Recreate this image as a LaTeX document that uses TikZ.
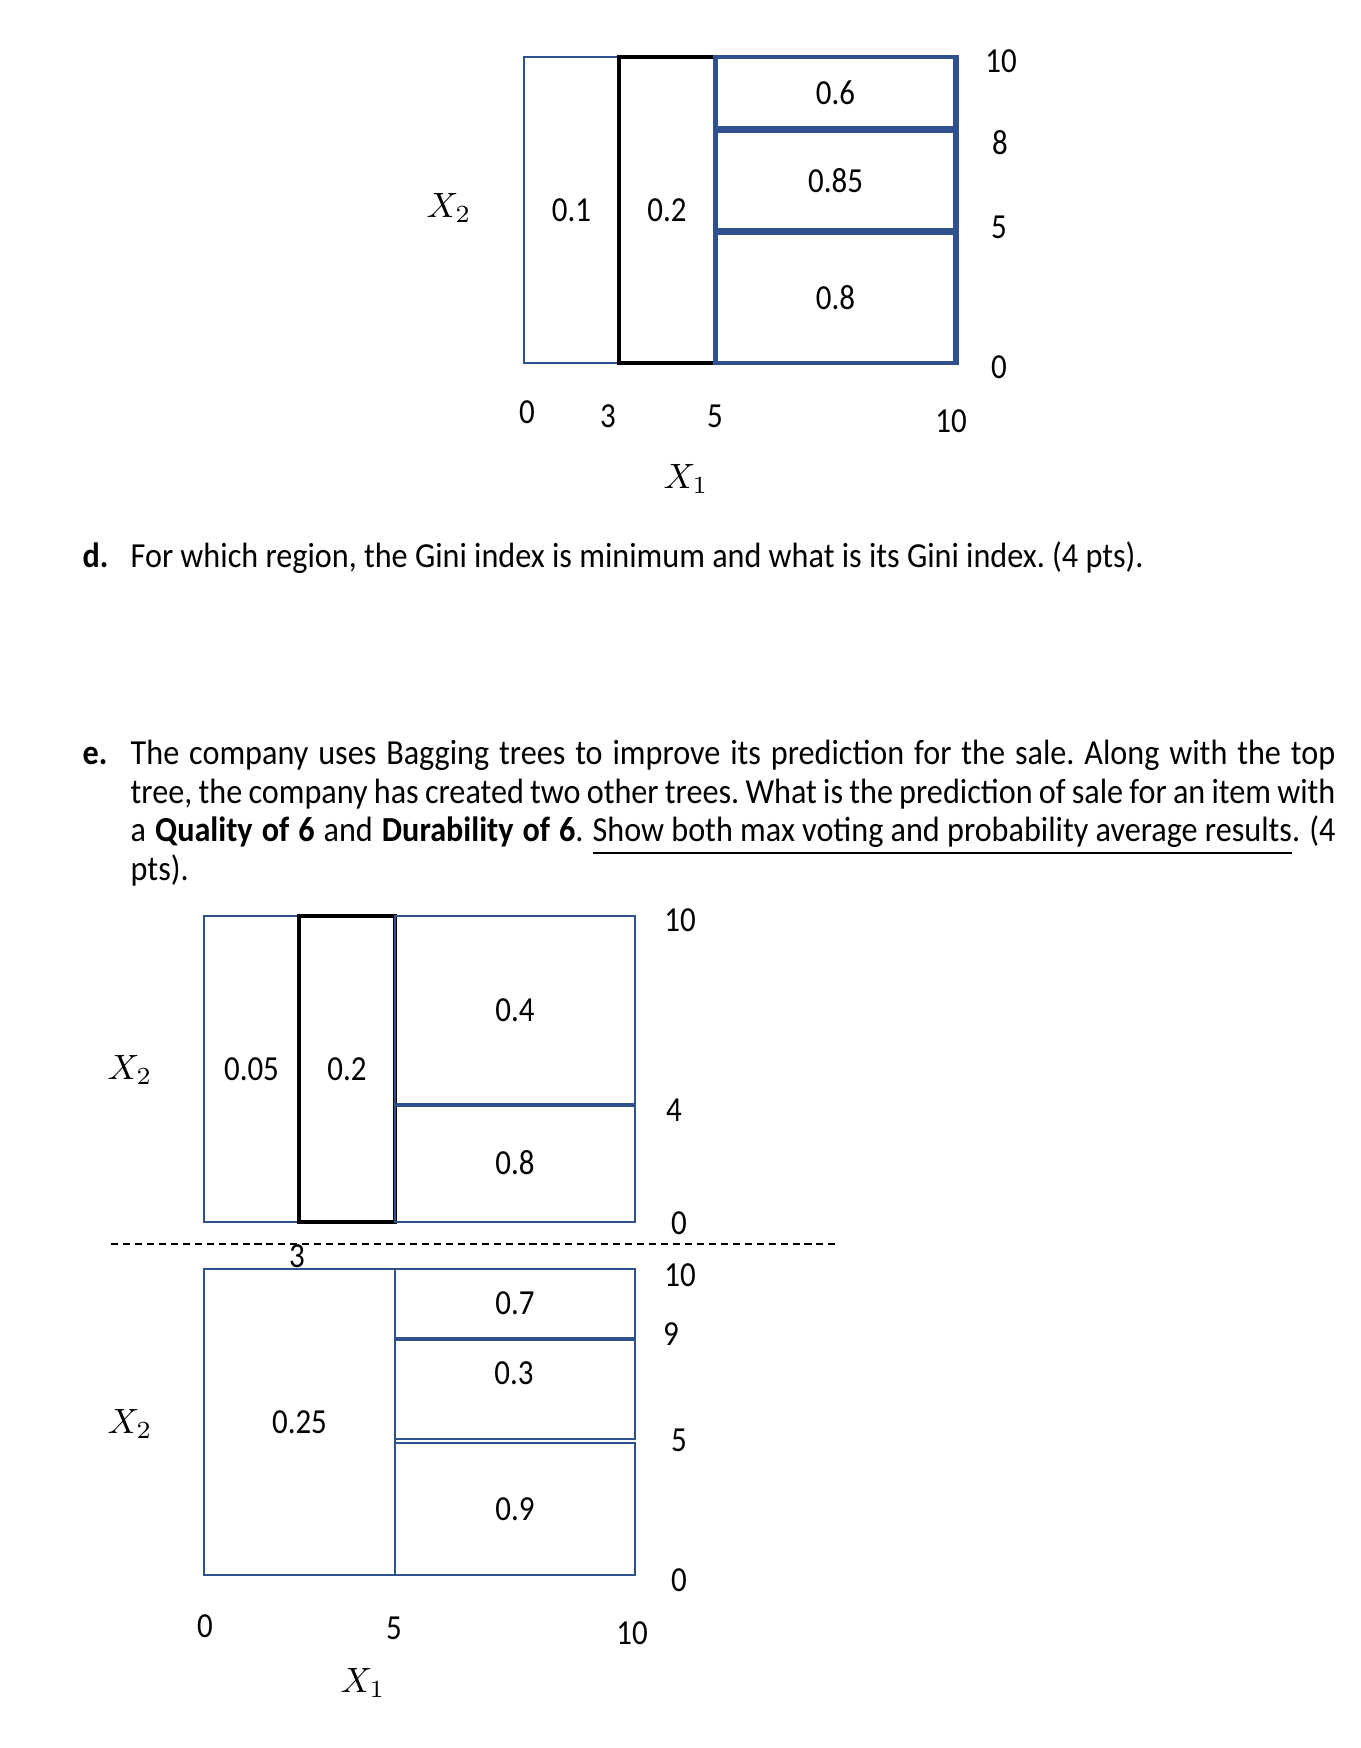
\documentclass[tikz,border=0pt]{standalone}
\usepackage{fontspec}
\setmainfont{Carlito}[FakeStretch=0.88]
\newfontfamily\bodyfont{Carlito}[FakeStretch=0.915]
\usepackage{xcolor}
\usepackage{tikz}
\usetikzlibrary{positioning}

\definecolor{partblue}{RGB}{47,82,143}
\frenchspacing

\begin{document}
\begin{tikzpicture}[
  x=0.01cm, y=-0.01cm,
  cell/.style={draw=partblue,line width=0.75pt,inner sep=0pt,
               font=\fontsize{10}{12}\selectfont},
  thickcell/.style={cell,line width=1.1pt},
  midcell/.style={cell,draw=black,line width=0.95pt},
  split/.style={draw=partblue,line width=1.1pt},
  num/.style={inner sep=0pt,font=\fontsize{10}{12}\selectfont},
  axis/.style={inner sep=0pt,font=\fontsize{10}{12}\selectfont},
  body/.style={inner sep=0pt,font=\bodyfont\fontsize{10}{11.06}\selectfont}
]
\useasboundingbox (0,0) rectangle (1360,1748);

% --- top tree
\node[cell,minimum width=0.95cm,minimum height=3.06cm] (t1) at (571.5,210) {0.1};
\node[midcell,minimum width=0.96cm,minimum height=3.06cm] (t2) at (667,210) {0.2};
\node[thickcell,minimum width=2.42cm,minimum height=3.06cm] (tr) at (836,210) {};
\node[thickcell,minimum width=2.39cm,minimum height=0.71cm] (t3) at (835.5,92.5) {0.6};
\node[thickcell,minimum width=2.39cm,minimum height=0.99cm] (t4) at (835.5,180.5) {0.85};
\node[thickcell,minimum width=2.39cm,minimum height=1.30cm] (t5) at (835.5,298) {0.8};

\node[axis] (ty10) at (1001,61)  {10};
\node[axis] (ty8)  at (1000,143) {8};
\node[axis] (ty5)  at (999,227)  {5};
\node[axis] (ty0)  at (999,367)  {0};
\node[axis] (tx0)  at (527,412)  {0};
\node[axis] (tx3)  at (608,416)  {3};
\node[axis] (tx5)  at (715,416)  {5};
\node[axis] (tx10) at (951,421)  {10};
\node[axis] (tX1)  at (686,479)  {$X_1$};
\node[axis] (tX2)  at (449,208)  {$X_2$};

% --- questions
\node[body,anchor=base west] (dlbl) at (82,567) {\textbf{d.}};
\node[body,anchor=base west] (dq) at (130,567)
  {For which region, the Gini index is minimum and what is its Gini index. (4 pts).};

\node[body,anchor=base west] (elbl) at (82,764) {\textbf{e.}};
\node[body,anchor=north west,text width=12.04cm,align=justify] (eq) at (130,739)
  {The company uses Bagging trees to improve its prediction for the sale. Along with the top\linebreak
   tree, the company has created two other trees. What is the prediction of sale for an item with\linebreak
   a \textbf{Quality of 6} and \textbf{Durability of 6}. \underline{Show both max voting and probability average results}. (4\linebreak
   pts).};

% --- second tree
\node[cell,minimum width=0.95cm,minimum height=3.06cm] (m1) at (251.5,1069) {0.05};
\node[midcell,minimum width=0.96cm,minimum height=3.06cm] (m2) at (347,1069) {0.2};
\node[cell,minimum width=2.40cm,minimum height=1.88cm] (m3) at (515,1010) {0.4};
\node[cell,minimum width=2.40cm,minimum height=1.18cm] (m4) at (515,1163) {0.8};
\draw[split] (m3.south west) -- (m3.south east);

\node[axis] (my10) at (680,920)  {10};
\node[axis] (my4)  at (674,1110) {4};
\node[axis] (my0)  at (679,1223) {0};
\node[axis] (mX2)  at (130,1070) {$X_2$};

\coordinate (cutL) at (111,1244);
\coordinate (cutR) at (838,1244);
\draw[line width=0.45pt,dash pattern=on 2pt off 1.4pt] (cutL) -- (cutR);
\node[axis] (mx3) at (297,1256) {3};

% --- third tree
\node[cell,minimum width=1.91cm,minimum height=3.06cm] (b1) at (299.5,1422) {0.25};
\node[cell,minimum width=2.40cm,minimum height=0.69cm] (b2) at (515,1303.5) {0.7};
\node[cell,minimum width=2.40cm,minimum height=1.01cm] (b3) at (515,1388.5) {};
\node[num] (b3t) at (514,1373) {0.3};
\node[cell,minimum width=2.40cm,minimum height=1.32cm] (b4) at (515,1509) {0.9};
\draw[split] (b2.south west) -- (b2.south east);

\node[axis] (by10) at (680,1275) {10};
\node[axis] (by9)  at (671,1334) {9};
\node[axis] (by5)  at (679,1440) {5};
\node[axis] (by0)  at (679,1580) {0};
\node[axis] (bx0)  at (205,1626) {0};
\node[axis] (bx5)  at (394,1628) {5};
\node[axis] (bx10) at (632,1633) {10};
\node[axis] (bX1)  at (363,1683) {$X_1$};
\node[axis] (bX2)  at (130,1424) {$X_2$};
\end{tikzpicture}
\end{document}
